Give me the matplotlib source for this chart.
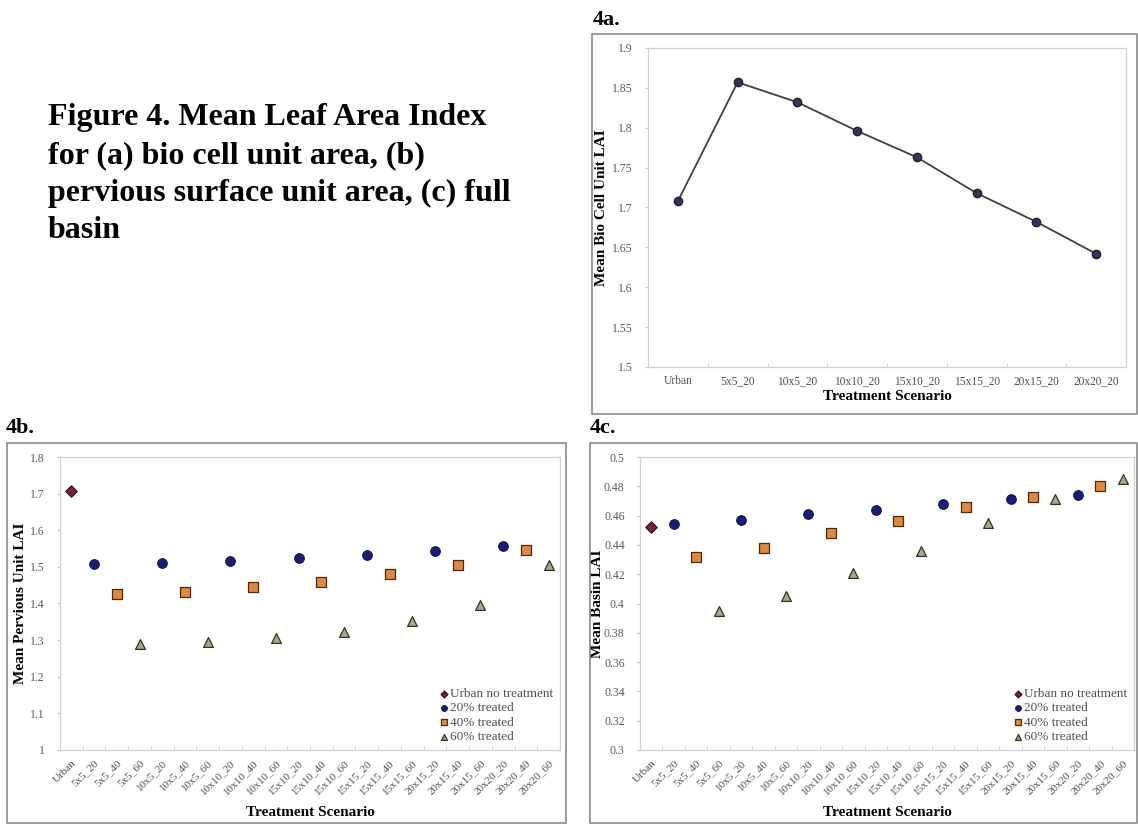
import numpy as np
import matplotlib.pyplot as plt
from matplotlib.patches import Rectangle

plt.rcParams['font.family'] = ['Liberation Serif', 'DejaVu Serif']

# --- data ---
cats_a = ['Urban', '5x5_20', '10x5_20', '10x10_20', '15x10_20', '15x15_20', '20x15_20', '20x20_20']
lai_a = [1.708, 1.857, 1.832, 1.796, 1.763, 1.718, 1.682, 1.642]

cats_bc = ['Urban', '5x5_20', '5x5_40', '5x5_60', '10x5_20', '10x5_40', '10x5_60',
           '10x10_20', '10x10_40', '10x10_60', '15x10_20', '15x10_40', '15x10_60',
           '15x15_20', '15x15_40', '15x15_60', '20x15_20', '20x15_40', '20x15_60',
           '20x20_20', '20x20_40', '20x20_60']

# 4b pervious unit LAI
perv_urban = [1.708]
perv_20 = [1.507, 1.511, 1.517, 1.523, 1.532, 1.543, 1.556]
perv_40 = [1.427, 1.432, 1.444, 1.458, 1.480, 1.505, 1.547]
perv_60 = [1.290, 1.295, 1.306, 1.323, 1.351, 1.396, 1.505]

# 4c basin LAI
basin_urban = [0.452]
basin_20 = [0.454, 0.457, 0.461, 0.464, 0.468, 0.471, 0.474]
basin_40 = [0.432, 0.438, 0.448, 0.456, 0.466, 0.473, 0.480]
basin_60 = [0.395, 0.405, 0.421, 0.436, 0.455, 0.471, 0.485]

series_labels = ['Urban no treatment', '20% treated', '40% treated', '60% treated']

W, H = 1138, 824
fig = plt.figure(figsize=(W / 100, H / 100), dpi=100)


def fx(px):
    return px / W


def fy(py):
    return 1 - py / H


# caption
caption = ['Figure 4. Mean Leaf Area Index',
           'for (a) bio cell unit area, (b)',
           'pervious surface unit area, (c) full',
           'basin']
for i, line in enumerate(caption):
    fig.text(fx(48), fy(118 + 37.5 * i), line, fontsize=23, fontweight='bold',
             va='center', ha='left')

# panel labels + boxes
for lab, x, y in [('4a.', 593, 20), ('4b.', 6, 428), ('4c.', 590, 428)]:
    fig.text(fx(x), fy(y), lab, fontsize=16, fontweight='bold', va='center')

for x0, y0, x1, y1 in [(592, 34, 1137, 414), (7, 443, 566, 823), (590, 443, 1137, 823)]:
    fig.patches.append(Rectangle((fx(x0), fy(y1)), fx(x1 - x0), (y1 - y0) / H,
                                 transform=fig.transFigure, fill=False,
                                 edgecolor='#8a8a8a', lw=1.2, zorder=0))


def style_axes(ax, cats, rot):
    ax.set_xlim(-0.5, len(cats) - 0.5)
    ax.set_xticks(range(len(cats)))
    if rot:
        ax.set_xticklabels(cats, rotation=45, ha='right', rotation_mode='anchor',
                           fontsize=8, color='#505050')
    else:
        ax.set_xticklabels(cats, fontsize=8.3, color='#505050')
    ax.set_xticks(np.arange(len(cats) + 1) - 0.5, minor=True)
    ax.tick_params(axis='x', which='major', length=0, pad=6)
    ax.tick_params(axis='x', which='minor', length=3, color='#c8c8c8', direction='in')
    ax.tick_params(axis='y', length=2, color='#c8c8c8', labelsize=8.5,
                   labelcolor='#5a5a5a', pad=9)
    for s in ax.spines.values():
        s.set_color('#d0d0d0')
        s.set_linewidth(0.9)
    ax.set_xlabel('Treatment Scenario', fontsize=11, fontweight='bold',
                  labelpad=7 if rot else 2)


# --- 4a ---
ax_a = fig.add_axes([fx(648), fy(367), fx(1126 - 648), (367 - 48) / H])
ax_a.plot(range(len(cats_a)), lai_a, color='#404040', lw=1.3, marker='o',
          markersize=6, markerfacecolor='#33335a', markeredgecolor='#222233')
ax_a.set_ylim(1.5, 1.9)
ax_a.set_yticks(np.arange(1.5, 1.91, 0.05))
ax_a.set_yticklabels(['1.5', '1.55', '1.6', '1.65', '1.7', '1.75', '1.8', '1.85', '1.9'])
style_axes(ax_a, cats_a, rot=False)
ax_a.set_ylabel('Mean Bio Cell Unit LAI', fontsize=11, fontweight='bold', labelpad=3)


def scatter_panel(ax, urban, s20, s40, s60):
    x20 = [1 + 3 * i for i in range(len(s20))]
    ax.scatter([0], urban, marker='D', s=34, color='#7a1f35', edgecolor='#2a0a10',
               lw=0.8, label=series_labels[0], zorder=3)
    ax.scatter(x20, s20, marker='o', s=50, color='#1c1c78', edgecolor='#10104a',
               lw=0.6, label=series_labels[1], zorder=3)
    ax.scatter([x + 1 for x in x20], s40, marker='s', s=44, color='#e0883c',
               edgecolor='#4a2a10', lw=0.9, label=series_labels[2], zorder=3)
    ax.scatter([x + 2 for x in x20], s60, marker='^', s=50, color='#a4ab84',
               edgecolor='#2e3422', lw=0.9, label=series_labels[3], zorder=3)
    leg = ax.legend(loc='lower right', frameon=False, fontsize=9.5, handletextpad=0.0,
                    labelspacing=0.17, borderaxespad=0.1, markerscale=0.6,
                    handlelength=0.9)
    for t in leg.get_texts():
        t.set_color('#505050')


# --- 4b ---
ax_b = fig.add_axes([fx(60), fy(750), fx(560 - 60), (750 - 457) / H])
scatter_panel(ax_b, perv_urban, perv_20, perv_40, perv_60)
ax_b.set_ylim(1.0, 1.8)
ax_b.set_yticks(np.arange(1.0, 1.81, 0.1))
ax_b.set_yticklabels(['1', '1.1', '1.2', '1.3', '1.4', '1.5', '1.6', '1.7', '1.8'])
style_axes(ax_b, cats_bc, rot=True)
ax_b.set_ylabel('Mean Pervious Unit LAI', fontsize=11, fontweight='bold', labelpad=2)

# --- 4c ---
ax_c = fig.add_axes([fx(640), fy(750), fx(1134 - 640), (750 - 457) / H])
scatter_panel(ax_c, basin_urban, basin_20, basin_40, basin_60)
ax_c.set_ylim(0.3, 0.5)
ax_c.set_yticks(np.arange(0.3, 0.501, 0.02))
ax_c.set_yticklabels(['0.3', '0.32', '0.34', '0.36', '0.38', '0.4', '0.42', '0.44',
                      '0.46', '0.48', '0.5'])
style_axes(ax_c, cats_bc, rot=True)
ax_c.set_ylabel('Mean Basin LAI', fontsize=11, fontweight='bold', labelpad=0)

fig.savefig('out.png', dpi=100, facecolor='white')
